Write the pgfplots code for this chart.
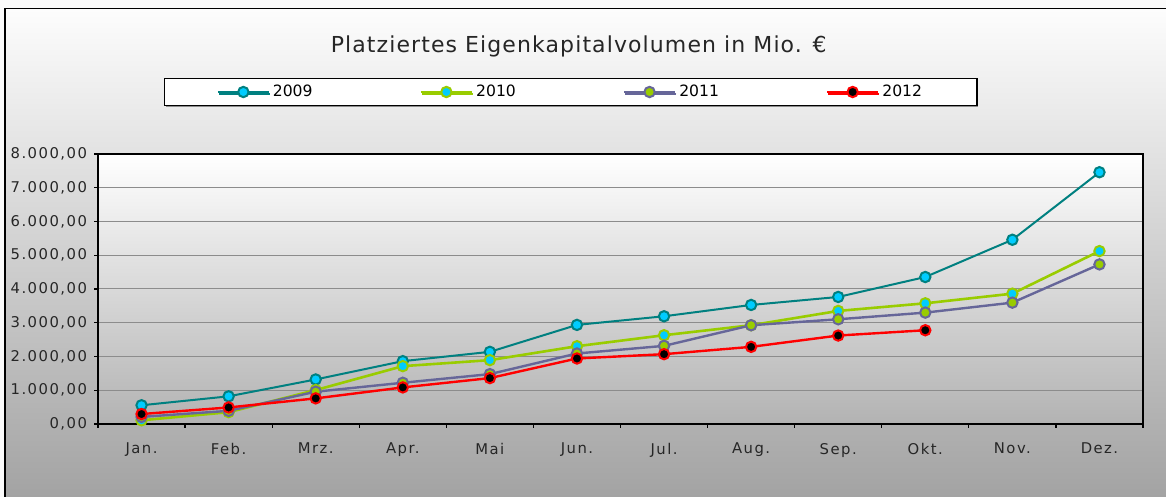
\documentclass[border=0pt]{standalone}
\usepackage{fontspec}
\setmainfont{DejaVu Sans}
\newfontfamily\tickfont[LetterSpace=10]{DejaVu Sans}
\newfontfamily\titlefont[LetterSpace=5]{DejaVu Sans}
\usepackage{pgfplots}
\pgfplotsset{compat=1.18}
\usetikzlibrary{shadows}
\definecolor{c09}{HTML}{008080}
\definecolor{cyanfill}{HTML}{00CCFF}
\definecolor{c10}{HTML}{99CC00}
\definecolor{c11}{HTML}{666699}
\definecolor{c12}{HTML}{FF0000}
\definecolor{bgtop}{HTML}{FDFDFD}
\definecolor{bgmid}{HTML}{DADADA}
\definecolor{bgbot}{HTML}{A3A3A3}
\begin{document}
\begin{tikzpicture}
\useasboundingbox (0,0) rectangle (583pt,248.5pt);
\fill[white!97!gray] (0,0) rectangle (583pt,248.5pt);
\shade[top color=bgtop, middle color=bgmid, bottom color=bgbot] (2.5pt,0) rectangle (583pt,244.25pt);
\draw[line width=0.8pt, black] (2.5pt,0) -- (2.5pt,244.25pt) -- (583pt,244.25pt);
\begin{axis}[
  at={(49pt,36.5pt)}, anchor=south west,
  scale only axis, width=522.5pt, height=135pt,
  xmin=-0.5, xmax=11.5, ymin=0, ymax=8000,
  axis background/.style={shade, top color=white, bottom color=gray!60},
  axis line style={line width=1pt, black},
  xtick={0,...,11},
  xticklabels={Jan.,Feb.,Mrz.,Apr.,Mai,Jun.,Jul.,Aug.,Sep.,Okt.,Nov.,Dez.},
  minor xtick={-0.5,0.5,...,11.5},
  major x tick style={draw=none},
  minor x tick style={black, line width=0.6pt},
  minor tick length=2pt,
  major tick length=2pt,
  tick align=outside,
  xtick pos=bottom, ytick pos=left,
  ytick={0,1000,...,8000},
  y tick style={black, line width=0.6pt},
  ymajorgrids, grid style={gray!90, line width=0.5pt},
  /pgf/number format/assume math mode=true,
  yticklabel style={/pgf/number format/.cd, fixed, fixed zerofill, precision=2, use comma, 1000 sep={.}},
  ticklabel style={font=\tickfont\fontsize{7.4}{8}\selectfont, text=black!85},
  xticklabel style={yshift=-4pt},
  title={Platziertes Eigenkapitalvolumen in Mio. €},
  title style={at={(0.460,1.404)}, anchor=center, yshift=-7pt, font=\titlefont\fontsize{11}{13}\selectfont, text=black!85},
  legend style={at={(0.4526,1.2296)}, anchor=center, draw=black, line width=0.6pt, fill=white,
    font=\fontsize{7.8}{9}\selectfont, inner xsep=26pt, inner ysep=1.5pt,
    nodes={inner sep=1.5pt},
    drop shadow={shadow xshift=0.6pt, shadow yshift=-0.9pt, fill=gray!90, opacity=1},
    /tikz/every even column/.append style={column sep=52pt}},
  legend columns=4,
  legend image code/.code={\draw[mark repeat=2,mark phase=2] plot coordinates {(0pt,0pt)(12.75pt,0pt)(25.5pt,0pt)};},
  every axis plot/.append style={mark=*, mark size=2.6pt},
]
\addplot[color=c09, line width=1pt, mark options={fill=cyanfill, draw=c09, line width=1pt}] coordinates {
(0,555) (1,820) (2,1320) (3,1862) (4,2138) (5,2936) (6,3192) (7,3527) (8,3764) (9,4355) (10,5459) (11,7460)};
\addlegendentry{2009}
\addplot[color=c10, line width=1.3pt, mark options={fill=cyanfill, draw=c10, line width=1pt}] coordinates {
(0,110) (1,350) (2,1005) (3,1714) (4,1892) (5,2305) (6,2630) (7,2926) (8,3350) (9,3576) (10,3862) (11,5123)};
\addlegendentry{2010}
\addplot[color=c11, line width=1.2pt, mark options={fill=c10, draw=c11, line width=1pt}] coordinates {
(0,210) (1,390) (2,956) (3,1222) (4,1478) (5,2089) (6,2315) (7,2926) (8,3103) (9,3300) (10,3596) (11,4729)};
\addlegendentry{2011}
\addplot[color=c12, line width=1.2pt, mark options={fill=black, draw=c12, line width=1pt}] coordinates {
(0,295) (1,490) (2,759) (3,1084) (4,1360) (5,1941) (6,2069) (7,2286) (8,2621) (9,2778)};
\addlegendentry{2012}
\end{axis}
\end{tikzpicture}
\end{document}
